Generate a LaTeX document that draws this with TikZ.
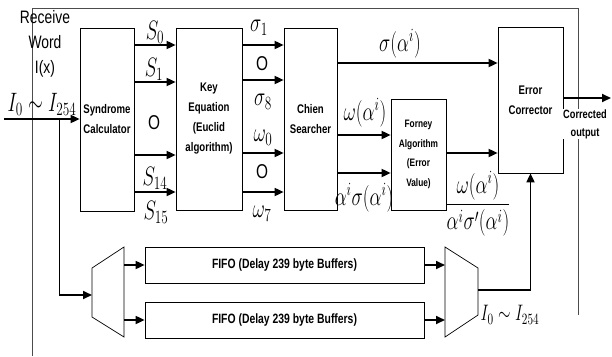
\RequirePackage{fix-cm}
\documentclass[tikz,border=0pt]{standalone}
\usepackage{amsmath}
\usepackage{fontspec}
\setmainfont{Liberation Sans}
\newfontfamily\narrowsans[FakeStretch=0.77]{Liberation Sans}
\usepackage{tikz}
\usetikzlibrary{arrows.meta}
\tikzset{
    block/.style={draw, line width=0.7pt, inner sep=1pt, align=center, font=\narrowsans\bfseries\fontsize{12.5}{20}\selectfont},
    arr/.style={line width=1.7pt, -{Triangle[length=9pt, width=8pt]}},
    link/.style={line width=0.8pt},
    sym/.style={yscale=1.4, inner sep=0pt, font=\fontsize{19}{21}\selectfont},
    dots/.style={inner sep=0pt, font=\narrowsans\fontsize{20}{20}\selectfont},
    frame/.style={line width=0.6pt, black!70}
}

\begin{document}
\begin{tikzpicture}[x=1pt, y=-1pt]
        \useasboundingbox (0,0) rectangle (612,356);
        % outer frame
        \draw[frame] (32,356) |- (578,8) -- (578,315);

        % decoder blocks
        \node[block, minimum width=54pt, minimum height=183pt] (syn) at (107,119.5) {Syndrome\\Calculator};
        \node[block, minimum width=66pt, minimum height=182pt] (key) at (209,119) {Key\\Equation\\(Euclid\\algorithm)};
        \node[block, minimum width=53pt, minimum height=182pt] (chien) at (310.5,119) {Chien\\Searcher};
        \node[block, minimum width=55pt, minimum height=111pt, font=\narrowsans\bfseries\fontsize{10.8}{19.5}\selectfont] (forney) at (418.5,154.5) {Forney\\Algorithm\\(Error\\Value)};
        \node[block, minimum width=65pt, minimum height=146pt] (corr) at (530.5,100) {Error\\Corrector};

        % delay buffers
        \foreach \y/\name in {265/fifoa, 320/fifob}
            \node[block, minimum width=279pt, minimum height=36pt, font=\narrowsans\bfseries\fontsize{13.5}{15}\selectfont] (\name) at (284.5,\y) {FIFO (Delay 239 byte Buffers)};

        % demux and mux
        \coordinate (dm1) at (92,268);
        \coordinate (dm2) at (124,247);
        \coordinate (dm3) at (124,337);
        \coordinate (dm4) at (92,317);
        \draw[line width=0.7pt] (dm1) -- (dm2) -- (dm3) -- (dm4) -- cycle;
        \coordinate (mx1) at (445,247);
        \coordinate (mx2) at (478,268);
        \coordinate (mx3) at (478,315);
        \coordinate (mx4) at (445,337);
        \draw[line width=0.7pt] (mx1) -- (mx2) -- (mx3) -- (mx4) -- cycle;

        % input
        \coordinate (in) at (4,119);
        \coordinate (br) at (59,119);
        \coordinate (bend) at (59,295);
        \draw[arr] (in) -- (syn.west |- in);
        \draw[link] (br) -- (bend);
        \draw[arr] (bend) -- (dm1 |- bend);
        \node[sym] (ina) at (42,104) {$I_0\sim I_{254}$};
        \node[inner sep=0pt, align=center, font=\narrowsans\fontsize{18}{25}\selectfont] (rw) at (45,44) {Receive\\Word\\I(x)};

        % syndromes and key equation outputs
        \foreach \y in {45,82,155,192}
            \draw[arr] (syn.east |- 0,\y) -- (key.west |- 0,\y);
        \foreach \y in {45,80,153,192}
            \draw[arr] (key.east |- 0,\y) -- (chien.west |- 0,\y);
        \foreach \x/\y/\lbl [count=\i] in {155/32/S_0, 154/69/S_1, 155/178/S_{14}, 156/212/S_{15}, 259/28/\sigma_1, 263/102/\sigma_8, 263/138/\omega_0, 262/214/\omega_7}
            \node[sym] (l\i) at (\x,\y) {$\lbl$};
        \foreach \x/\y [count=\i] in {154/123, 262/64, 262/172}
            \node[dots] (o\i) at (\x,\y) {O};

        % chien searcher and forney
        \draw[arr] (chien.east |- 0,63) -- (corr.west |- 0,63);
        \foreach \y in {135,173}
            \draw[arr] (chien.east |- 0,\y) -- (forney.west |- 0,\y);
        \draw[arr] (forney.east |- 0,153) -- (corr.west |- 0,153);
        \node[sym] (sa) at (400,44) {$\sigma(\alpha^i)$};
        \node[sym] (wa) at (365,113) {$\omega(\alpha^i)$};
        \node[sym] (as) at (364,198) {$\alpha^i\sigma(\alpha^i)$};
        \node[sym] (ev) at (478,204) {$\dfrac{\omega(\alpha^i)}{\alpha^i\sigma'(\alpha^i)}$};

        % buffers to corrector
        \foreach \name in {fifoa, fifob} {
            \draw[arr] (dm2 |- \name) -- (\name.west);
            \draw[arr] (\name.east) -- (mx1 |- \name);
        }
        \coordinate (mxout) at (478,290);
        \draw[arr] (mxout) -| (corr.south);
        \node[sym, font=\fontsize{16}{17}\selectfont] (inb) at (510,315) {$I_0\sim I_{254}$};

        % output
        \coordinate (out) at (611,98);
        \draw[arr] (corr.east |- out) -- (out);
        \node[fill=white, inner sep=0.5pt, align=center, font=\narrowsans\bfseries\fontsize{12}{18}\selectfont] (co) at (585,124) {Corrected\\output};
    \end{tikzpicture}
\end{document}
